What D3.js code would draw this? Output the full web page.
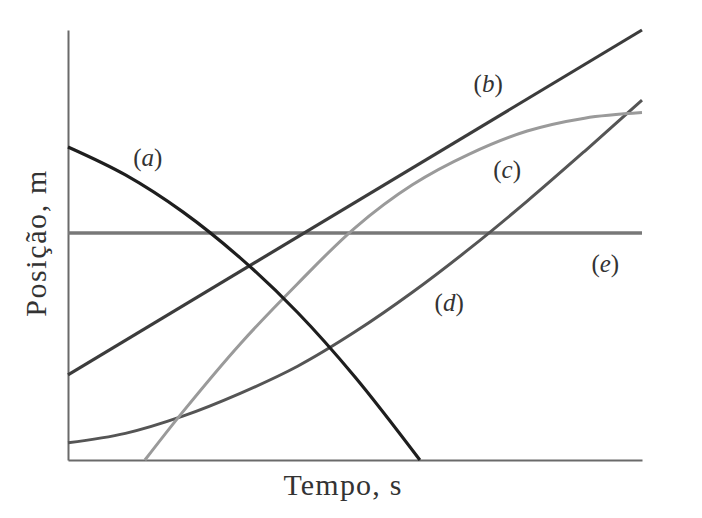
<!DOCTYPE html>
<html>
<head>
<meta charset="utf-8">
<script src="https://cdn.jsdelivr.net/npm/d3@7"></script>
<style>
  html, body { margin: 0; padding: 0; background: #fff; }
  svg { display: block; }
  text { font-family: "Liberation Serif", "DejaVu Serif", serif; fill: #333; }
</style>
</head>
<body>
<svg id="chart" width="702" height="518"></svg>
<script>
// Time (s) and position (m) in arbitrary units
const timeDomain = [0, 10];
const posDomain = [0, 10];

const seriesA_t = [0, 1, 2, 3, 4, 5, 6.13];
const seriesA_p = [7.28, 6.63, 5.77, 4.70, 3.43, 1.93, 0];

const seriesB_t = [0, 10];
const seriesB_p = [1.98, 10];

const seriesC_t = [1.34, 2, 3, 4, 5, 6, 7, 8, 9, 10];
const seriesC_p = [0, 1.12, 2.7, 4.1, 5.4, 6.4, 7.12, 7.65, 7.95, 8.08];

const seriesD_t = [0, 1, 2, 3, 4, 5, 6, 7, 8, 9, 10];
const seriesD_p = [0.40, 0.62, 1.02, 1.55, 2.18, 2.98, 3.9, 4.92, 6.02, 7.18, 8.37];

const seriesE_t = [0, 10];
const seriesE_p = [5.28, 5.28];

const seriesLabels = ["(a)", "(b)", "(c)", "(d)", "(e)"];
const xTitle = "Tempo, s";
const yTitle = "Posição, m";

const svg = d3.select("#chart");
const x = d3.scaleLinear().domain(timeDomain).range([68, 642]);
const y = d3.scaleLinear().domain(posDomain).range([460, 30]);

const zip = (ts, ps) => ts.map((t, i) => ({ t, p: ps[i] }));

const line = d3.line().x(d => x(d.t)).y(d => y(d.p)).curve(d3.curveCatmullRom.alpha(0.5));

const series = [
  { key: "e", data: zip(seriesE_t, seriesE_p), color: "#787878", width: 3.4 },
  { key: "d", data: zip(seriesD_t, seriesD_p), color: "#555", width: 3 },
  { key: "c", data: zip(seriesC_t, seriesC_p), color: "#9a9a9a", width: 3 },
  { key: "b", data: zip(seriesB_t, seriesB_p), color: "#3c3c3c", width: 3.2 },
  { key: "a", data: zip(seriesA_t, seriesA_p), color: "#1e1e1e", width: 3.2 }
];

// axes (no ticks)
const xAxis = d3.axisBottom(x).tickValues([]).tickSizeOuter(0);
const yAxis = d3.axisLeft(y).tickValues([]).tickSizeOuter(0);
svg.append("g").attr("transform", "translate(0,460)").call(xAxis)
  .select(".domain").attr("stroke", "#6a6a6a").attr("stroke-width", 2);
svg.append("g").attr("transform", "translate(68,0)").call(yAxis)
  .select(".domain").attr("stroke", "#6a6a6a").attr("stroke-width", 2);

svg.append("g").selectAll("path").data(series).join("path")
  .attr("d", d => line(d.data))
  .attr("fill", "none")
  .attr("stroke", d => d.color)
  .attr("stroke-width", d => d.width)
  .attr("stroke-linecap", "butt");

// series labels: upright parentheses, italic letter
const labelPos = [
  [1.39, 6.84], [7.32, 8.56], [7.65, 6.56], [6.64, 3.47], [9.36, 4.37]
];
const lab = svg.append("g").selectAll("text").data(seriesLabels).join("text")
  .attr("x", (d, i) => x(labelPos[i][0]))
  .attr("y", (d, i) => y(labelPos[i][1]))
  .attr("text-anchor", "middle")
  .attr("font-size", 25)
  .attr("fill", "#333");
lab.append("tspan").text(d => d[0]);
lab.append("tspan").attr("font-style", "italic").text(d => d[1]);
lab.append("tspan").text(d => d[2]);

svg.append("text")
  .attr("x", 343).attr("y", 495)
  .attr("text-anchor", "middle")
  .attr("font-size", 30)
  .attr("letter-spacing", 1.2)
  .text(xTitle);

svg.append("text")
  .attr("transform", "translate(46,243) rotate(-90)")
  .attr("text-anchor", "middle")
  .attr("font-size", 30)
  .attr("letter-spacing", 1.6)
  .text(yTitle);
</script>
</body>
</html>
